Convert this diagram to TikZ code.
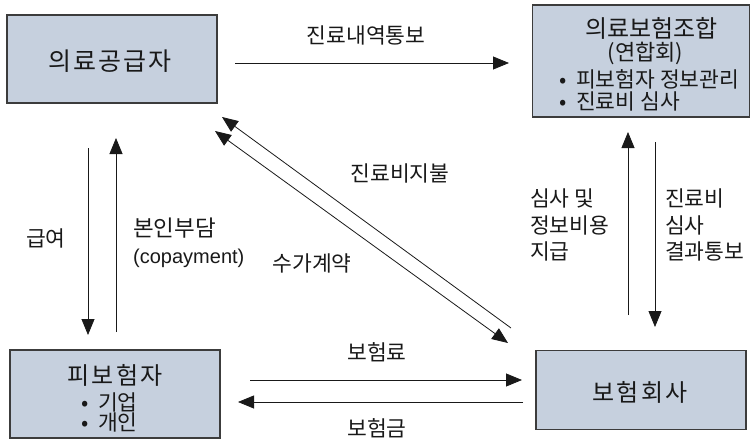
\documentclass[tikz,border=0pt]{standalone}
\usepackage{fontspec}
\setmainfont{Noto Sans CJK KR}
\newfontfamily\latinfont{Liberation Sans}
\usetikzlibrary{arrows.meta}
\definecolor{boxfill}{RGB}{198,208,222}
\definecolor{boxline}{RGB}{60,60,60}
\definecolor{ink}{RGB}{25,25,25}
\newcommand{\bulletgap}{•\hspace{0.45em}}
\begin{document}
\begin{tikzpicture}[x=1pt,y=-1pt,
  box/.style={draw=boxline,fill=boxfill,line width=1.3pt,inner sep=0pt},
  boxtxt/.style={text=ink,inner sep=0pt},
  lbl/.style={font=\fontsize{21.5}{26.5}\selectfont,text=ink,inner sep=0pt},
  flow/.style={draw=ink,line width=0.8pt,-{Triangle[length=16pt,width=13pt]}},
  flowboth/.style={draw=ink,line width=0.8pt,{Triangle[length=16pt,width=13pt]}-{Triangle[length=16pt,width=13pt]}},
]
\useasboundingbox (0,0) rectangle (753,439);

% boxes
\node[box,minimum width=210pt,minimum height=88pt] (prov) at (112,59) {};
\node[boxtxt,font=\fontsize{25}{28}\selectfont\addfontfeature{LetterSpace=8}] (provtitle) at (110,61) {의료공급자};
\node[box,minimum width=217pt,minimum height=112pt] (plan) at (641,61) {};
\node[boxtxt,font=\fontsize{24}{26}\selectfont] (plantitle) at (651.5,28) {의료보험조합};
\node[boxtxt,font=\fontsize{22}{24}\selectfont] (plansub) at (645.5,53) {(연합회)};
\node[boxtxt,font=\fontsize{21.5}{24}\selectfont,anchor=west] (plana) at (559,79) {\bulletgap 피보험자 정보관리};
\node[boxtxt,font=\fontsize{21.5}{24}\selectfont,anchor=west] (planb) at (559,101) {\bulletgap 진료비 심사};
\node[box,minimum width=210pt,minimum height=88pt] (ins) at (115,394) {};
\node[boxtxt,font=\fontsize{24}{26}\selectfont\addfontfeature{LetterSpace=10}] (institle) at (115,375) {피보험자};
\node[boxtxt,font=\fontsize{21.5}{24}\selectfont,anchor=west] (insa) at (81,402) {\bulletgap 기업};
\node[boxtxt,font=\fontsize{21.5}{24}\selectfont,anchor=west] (insb) at (81,422) {\bulletgap 개인};
\node[box,minimum width=210pt,minimum height=79pt] (comp) at (641,390) {};
\node[boxtxt,font=\fontsize{24}{26}\selectfont\addfontfeature{LetterSpace=10}] (comptitle) at (640,392) {보험회사};

% connector end points
\coordinate (t1a) at (235,63);  \coordinate (t1b) at (509,63);
\coordinate (l1a) at (88,148);  \coordinate (l1b) at (88,335);
\coordinate (l2a) at (116,332); \coordinate (l2b) at (116,138);
\coordinate (d1a) at (511,328); \coordinate (d1b) at (222,117);
\coordinate (d2a) at (215,131); \coordinate (d2b) at (508,343);
\coordinate (r1a) at (628,315); \coordinate (r1b) at (628,132);
\coordinate (r2a) at (655,142); \coordinate (r2b) at (655,327);
\coordinate (b1a) at (250,380); \coordinate (b1b) at (522,380);
\coordinate (b2a) at (523,402); \coordinate (b2b) at (238,402);

\draw[flow] (t1a) -- (t1b);
\draw[flow] (l1a) -- (l1b);
\draw[flow] (l2a) -- (l2b);
\draw[flow] (d1a) -- (d1b);
\draw[flowboth] (d2a) -- (d2b);
\draw[flow] (r1a) -- (r1b);
\draw[flow] (r2a) -- (r2b);
\draw[flow] (b1a) -- (b1b);
\draw[flow] (b2a) -- (b2b);

% labels
\node[lbl] (lt) at (366,35) {진료내역통보};
\node[lbl] (lg) at (46,238) {급여};
\node[lbl,anchor=west,font=\fontsize{22.5}{26.5}\selectfont] (lc1) at (133,228) {본인부담};
\node[lbl,anchor=west,font=\latinfont\fontsize{20}{24}\selectfont] (lc2) at (133,258) {(copayment)};
\node[lbl] (lpay) at (400,173) {진료비지불};
\node[lbl] (lfee) at (312,263) {수가계약};
\node[lbl,anchor=north west,align=left] (lr1) at (530,189) {심사 및\\정보비용\\지급};
\node[lbl,anchor=north west,align=left] (lr2) at (665,189) {진료비\\심사\\결과통보};
\node[lbl] (lb1) at (377,352) {보험료};
\node[lbl] (lb2) at (377,428) {보험금};
\end{tikzpicture}
\end{document}
